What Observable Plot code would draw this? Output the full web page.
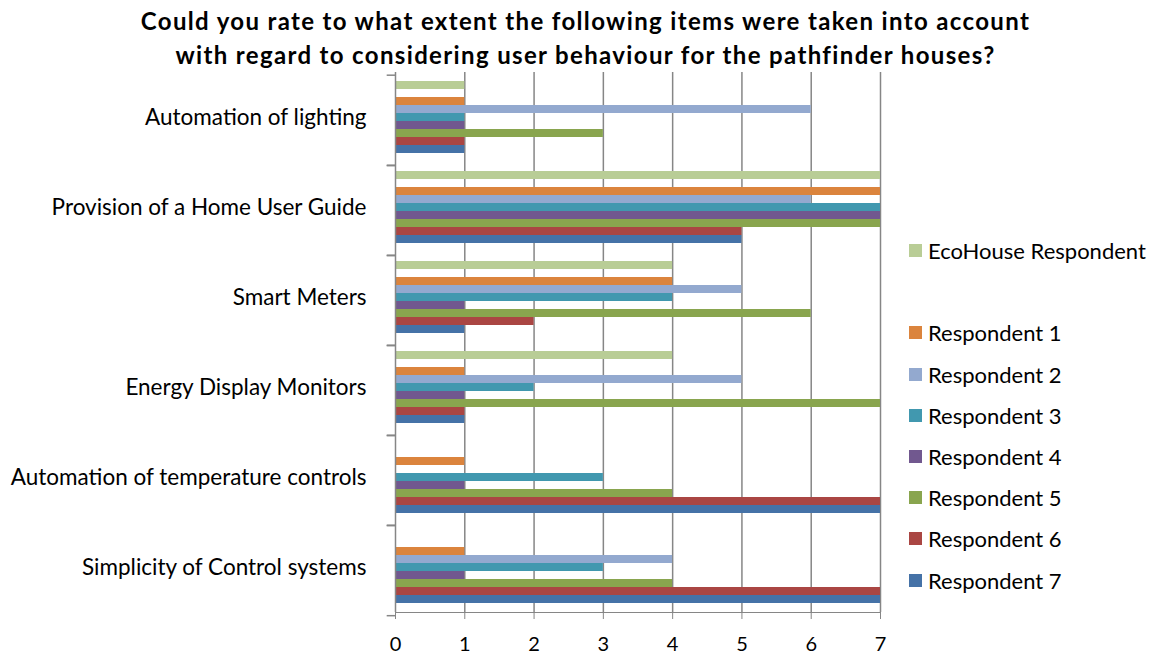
<!DOCTYPE html>
<html><head><meta charset="utf-8">
<script src="https://cdn.jsdelivr.net/npm/d3@7"></script>
<script src="https://cdn.jsdelivr.net/npm/@observablehq/plot@0.6"></script>
<style>
body{margin:0;background:#fff;}
#wrap{position:relative;width:1153px;height:657px;font-family:Lato, sans-serif;color:#000;}
#title{position:absolute;top:4px;left:9px;width:1153px;text-align:center;font-weight:bold;font-size:24px;letter-spacing:1.35px;line-height:34px;}
#legend{position:absolute;left:909px;top:230px;font-size:22px;}
.item{height:41.2px;display:flex;align-items:center;white-space:nowrap;}
.sw{width:13px;height:13px;margin-right:6px;flex:none;}
#chart svg text{fill:#000;}
#chart svg g[aria-label^="x-axis"] text{font-size:20px;}
</style></head><body>
<div id="wrap"><div id="chart"></div><div id="title">Could you rate to what extent the following items were taken into account<br>with regard to considering user behaviour for the pathfinder houses?</div><div id="legend"></div></div>
<script>
const categories = ["Automation of lighting", "Provision of a Home User Guide", "Smart Meters", "Energy Display Monitors", "Automation of temperature controls", "Simplicity of Control systems"];
const series = ["EcoHouse Respondent", "", "Respondent 1", "Respondent 2", "Respondent 3", "Respondent 4", "Respondent 5", "Respondent 6", "Respondent 7"];
const colors = ["#B9CD96", "#D19392", "#DB843D", "#93A9CF", "#4198AF", "#71588F", "#89A54E", "#AA4643", "#4572A7"];
const ecoHouse    = [1, 7, 4, 4, null, null];
const blank       = [null, null, null, null, null, null];
const respondent1 = [1, 7, 4, 1, 1, 1];
const respondent2 = [6, 6, 5, 5, null, 4];
const respondent3 = [1, 7, 4, 2, 3, 3];
const respondent4 = [1, 7, 1, 1, 1, 1];
const respondent5 = [3, 7, 6, 7, 4, 4];
const respondent6 = [1, 5, 2, 1, 7, 7];
const respondent7 = [1, 5, 1, 1, 7, 7];
const xTicks = [0, 1, 2, 3, 4, 5, 6, 7];

const values = [ecoHouse, blank, respondent1, respondent2, respondent3, respondent4, respondent5, respondent6, respondent7];
const rows = categories.flatMap((c, i) => series.map((s, j) => ({category: c, series: s, value: values[j][i]}))).filter(d => d.value != null);

const W = 1153, H = 657, mT = 70, mB = 44, mL = 395, mR = 273;
const gray = "#868686";
const padIn = 0.04, padOut = 0.7;
const facetH = (H - mT - mB) / categories.length;
const step = facetH / (series.length - padIn + 2 * padOut);
const firstCenter = padOut * step + (1 - padIn) * step / 2;

const chart = Plot.plot({
  width: W, height: H, marginLeft: mL, marginRight: mR, marginTop: mT, marginBottom: mB,
  style: {fontFamily: "Lato, sans-serif", fontSize: "22.5px", color: gray, background: "white", overflow: "visible"},
  facet: {data: rows, y: "category", marginLeft: mL, marginRight: mR, marginTop: mT, marginBottom: mB},
  fy: {domain: categories, padding: 0, axis: "left", label: null, tickSize: 0, tickPadding: 29},
  y: {domain: series, axis: null, paddingInner: padIn, paddingOuter: padOut},
  x: {domain: [0, 7], ticks: xTicks, tickSize: 7, tickPadding: 17, label: null, line: true, tickFormat: d3.format("d")},
  color: {domain: series, range: colors},
  marks: [
    Plot.ruleX(xTicks.slice(1), {stroke: gray, strokeWidth: 1.5}),
    Plot.barX(rows, {y: "series", x: "value", fill: "series"}),
    Plot.ruleX([0], {stroke: gray, strokeWidth: 1.5}),
    Plot.ruleY([series[0]], {x1: -0.12, x2: 0, dy: -firstCenter, stroke: gray, strokeWidth: 1.5}),
    Plot.ruleY([series[0]], {x1: -0.12, x2: 0, dy: facetH - firstCenter, stroke: gray, strokeWidth: 1.5})
  ]
});
document.getElementById("chart").appendChild(chart);

const legend = d3.select("#legend");
series.forEach((s, j) => {
  const it = legend.append("div").attr("class", "item");
  if (s) {
    it.append("div").attr("class", "sw").style("background", colors[j]);
    it.append("span").text(s);
  }
});
</script>
</body></html>
